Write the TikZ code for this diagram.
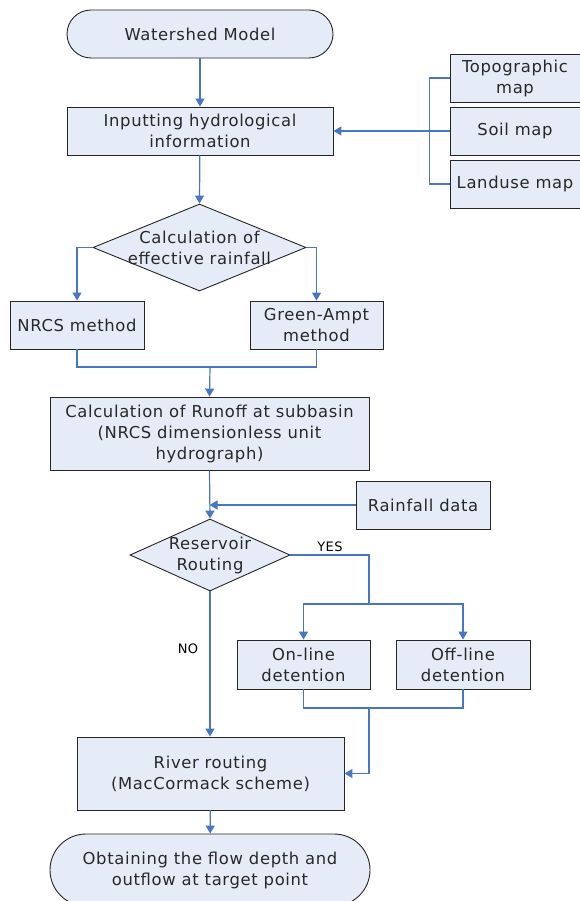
\documentclass[tikz,border=0pt]{standalone}
\usepackage{fontspec}
\setmainfont{DejaVu Sans}[LetterSpace=4]
\usetikzlibrary{shapes.geometric,arrows.meta}
\definecolor{boxfill}{RGB}{230,236,247}
\definecolor{flowblue}{RGB}{72,118,196}
\definecolor{inktext}{RGB}{40,40,40}
\tikzset{
    base/.style={draw=black!85, fill=boxfill, line width=0.9pt, inner sep=0pt,
                 align=center, text=inktext, font=\fontsize{16.4}{21}\selectfont},
    process/.style={base, rectangle},
    terminal/.style={base, rectangle, rounded corners=24pt},
    decision/.style={base, diamond},
    label/.style={inner sep=0pt, align=center, text=inktext, font=\fontsize{16.4}{21}\selectfont},
    tag/.style={inner sep=0pt, text=black, font=\fontsize{13}{15}\selectfont},
    line/.style={draw=flowblue, line width=1.2pt},
    arrow/.style={line, -{Triangle[length=8pt,width=9pt]}}
}
\begin{document}
\begin{tikzpicture}[x=1pt, y=-1pt]
    \useasboundingbox (0,0) rectangle (579,901);
    % main column
    \node[terminal, minimum width=266pt, minimum height=48pt] (watershed) at (200,34) {Watershed Model};
    \node[process, minimum width=266pt, minimum height=48pt] (input) at (200,131) {Inputting hydrological\\information};
    \node[process, minimum width=130pt, minimum height=48pt] (topo) at (515,78) {Topographic\\map};
    \node[process, minimum width=130pt, minimum height=48pt] (soil) at (515,131) {Soil map};
    \node[process, minimum width=130pt, minimum height=48pt] (landuse) at (515,184) {Landuse map};
    \node[decision, minimum width=213pt, minimum height=87pt] (effective) at (199.5,247.5) {};
    \node[label] (effectivetxt) at (effective) {Calculation of\\effective rainfall};
    \node[process, minimum width=134pt, minimum height=48pt] (nrcs) at (77,325) {NRCS method};
    \node[process, minimum width=133pt, minimum height=48pt] (greenampt) at (316.5,325) {Green-Ampt\\method};
    \node[process, minimum width=319pt, minimum height=73pt] (runoff) at (209.5,433.5) {Calculation of Runoff at subbasin\\(NRCS dimensionless unit\\hydrograph)};
    \node[process, minimum width=134pt, minimum height=48pt] (raindata) at (423,505) {Rainfall data};
    \node[decision, minimum width=160pt, minimum height=72pt] (reservoir) at (210,555) {};
    \node[label] (reservoirtxt) at (reservoir) {Reservoir\\Routing};
    \node[process, minimum width=133pt, minimum height=49pt] (online) at (303.5,664.5) {On-line\\detention};
    \node[process, minimum width=134pt, minimum height=49pt] (offline) at (463,664.5) {Off-line\\detention};
    \node[process, minimum width=267pt, minimum height=73pt] (river) at (210.5,773.5) {River routing\\(MacCormack scheme)};
    \node[terminal, rounded corners=36pt, minimum width=320pt, minimum height=72pt] (target) at (210,870) {Obtaining the flow depth and\\outflow at target point};
    \node[tag] (yes) at (330,547) {YES};
    \node[tag] (no) at (188,649) {NO};
    % junction points
    \coordinate (methjoin) at (210,367);
    \coordinate (yesfork) at (369,604);
    \coordinate (detjoin) at (369,708);
    % connectors
    \draw[arrow] (watershed) -- (input);
    \draw[line] (topo.west) -- ++(-20,0) |- (landuse.west);
    \draw[arrow] (soil.west) -- (input.east);
    \draw[arrow] (input) -- (effective.north);
    \draw[arrow] (effective.west) -| (nrcs.north);
    \draw[arrow] (effective.east) -| (greenampt.north);
    \draw[line] (nrcs.south) |- (methjoin);
    \draw[line] (greenampt.south) |- (methjoin);
    \draw[arrow] (methjoin) -- (runoff.north);
    \draw[arrow] (runoff.south) -- (reservoir.north);
    \draw[arrow] (raindata.west) -- (raindata.west -| runoff.south);
    \draw[line] (reservoir.east) -| (yesfork);
    \draw[arrow] (yesfork) -| (online.north);
    \draw[arrow] (yesfork) -| (offline.north);
    \draw[line] (online.south) |- (detjoin);
    \draw[line] (offline.south) |- (detjoin);
    \draw[arrow] (detjoin) |- (river.east);
    \draw[arrow] (reservoir.south) -- (river.north -| reservoir.south);
    \draw[arrow] (river) -- (target);
\end{tikzpicture}
\end{document}
